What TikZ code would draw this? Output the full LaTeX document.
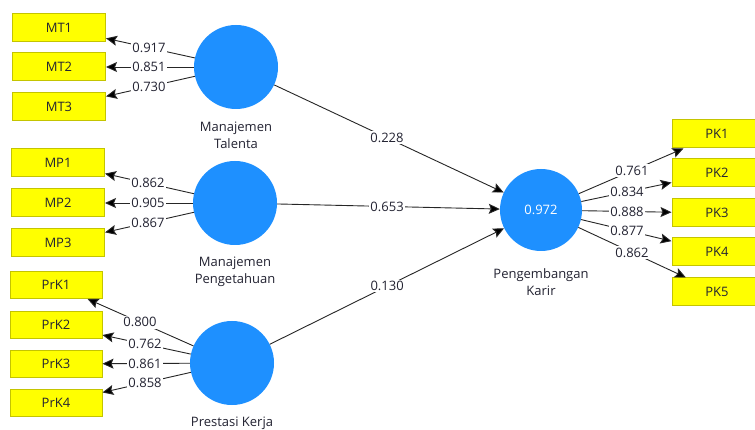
\documentclass[tikz,border=0pt]{standalone}
\usepackage{fontspec}
\setmainfont{Open Sans}
\usetikzlibrary{arrows.meta,calc}
\definecolor{lvblue}{RGB}{30,144,255}
\definecolor{mvyellow}{RGB}{255,255,0}
\definecolor{mvborder}{RGB}{196,196,0}
\definecolor{txt}{RGB}{35,35,50}
\begin{document}
\begin{tikzpicture}[x=1pt,y=-1pt,
  font=\fontsize{13}{17}\selectfont,
  ind/.style={draw=mvborder, fill=mvyellow, line width=1pt, minimum width=93pt, minimum height=28pt, inner sep=0pt, text=txt},
  lv/.style={circle, fill=lvblue, minimum size=84pt, inner sep=0pt, text=white},
  conn/.style={draw=black!85, line width=0.9pt, -{Stealth[length=11pt,width=10pt,inset=2pt,fill=black]}},
  val/.style={fill=white, inner sep=1.5pt, text=txt},
  lvcap/.style={align=center, text=txt}]
\useasboundingbox (0,0) rectangle (755,430);
\clip (0,0) rectangle (755,430);
\fill[white] (0,0) rectangle (755,430);

% latent variables
\node[lv] (MT) at (236,67) {};
\node[lv] (MP) at (235,203) {};
\node[lv] (PrK) at (232,363) {};
\node[lv, minimum size=82pt] (PK) at (541,210) {0.972};

\node[lvcap] (capMT) at (236,135.5) {Manajemen\\Talenta};
\node[lvcap] (capMP) at (235,272) {Manajemen\\Pengetahuan};
\node[lvcap] (capPrK) at (232,423) {Prestasi Kerja};
\node[lvcap] (capPK) at (541,282) {Pengembangan\\Karir};

% indicators
\node[ind] (MT1) at (59,28) {MT1};
\node[ind] (MT2) at (59,67) {MT2};
\node[ind] (MT3) at (59,107) {MT3};
\node[ind] (MP1) at (58,163) {MP1};
\node[ind] (MP2) at (58,203) {MP2};
\node[ind] (MP3) at (58,243) {MP3};
\node[ind, minimum height=27pt, minimum width=92pt] (PrK1) at (56,285) {PrK1};
\node[ind, minimum height=27pt, minimum width=92pt] (PrK2) at (56,325) {PrK2};
\node[ind, minimum height=27pt, minimum width=92pt] (PrK3) at (56,364) {PrK3};
\node[ind, minimum height=27pt, minimum width=92pt] (PrK4) at (56,403) {PrK4};
\node[ind, minimum width=90pt] (PK1) at (717,134) {PK1};
\node[ind, minimum width=90pt] (PK2) at (717,173) {PK2};
\node[ind, minimum width=90pt] (PK3) at (717,213) {PK3};
\node[ind, minimum width=90pt] (PK4) at (717,252) {PK4};
\node[ind, minimum width=90pt] (PK5) at (717,292) {PK5};

% outer loadings
\foreach \a/\b/\t/\v in {MT/MT1/0.4915/0.917, MT/MT2/0.4915/0.851, MT/MT3/0.4915/0.730,
  MP/MP1/0.4915/0.862, MP/MP2/0.4915/0.905, MP/MP3/0.4915/0.867,
  PrK/PrK1/0.523/0.800, PrK/PrK2/0.494/0.762, PrK/PrK3/0.494/0.861, PrK/PrK4/0.494/0.858,
  PK/PK1/0.517/0.761, PK/PK2/0.489/0.834, PK/PK3/0.489/0.888, PK/PK4/0.489/0.877, PK/PK5/0.517/0.862}{
  \draw[conn] (\a) -- (\b);
  \node[val] at ($(\a)!\t!(\b)$) {\v};
}

% structural paths
\foreach \a/\t/\v in {MT/0.495/0.228, MP/0.497/0.653, PrK/0.502/0.130}{
  \draw[conn] (\a) -- (PK);
  \node[val] at ($(\a)!\t!(PK)$) {\v};
}
\end{tikzpicture}
\end{document}
